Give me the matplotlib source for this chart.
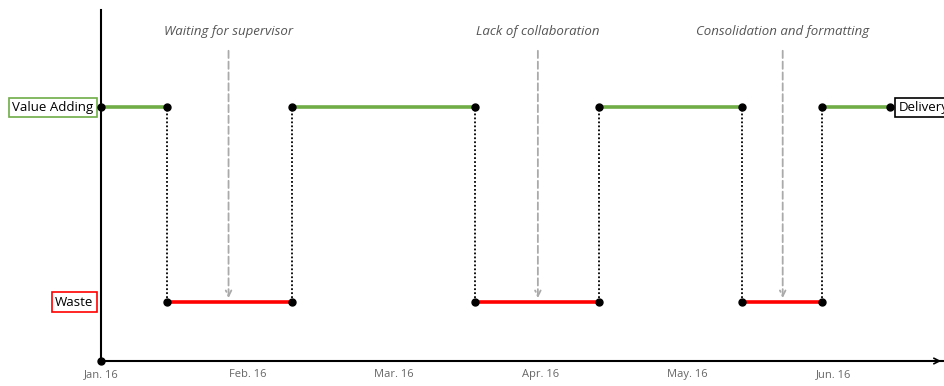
import matplotlib
matplotlib.use("Agg")
import matplotlib.pyplot as plt

plt.rcParams['font.family'] = ['Open Sans', 'DejaVu Sans']

# Timeline in months since Jan. 16
month_labels = ["Jan. 16", "Feb. 16", "Mar. 16", "Apr. 16", "May. 16", "Jun. 16"]
value_segments = [(0.0, 0.45), (1.30, 2.55), (3.40, 4.37), (4.92, 5.38)]
waste_segments = [(0.45, 1.30), (2.55, 3.40), (4.37, 4.92)]
waste_reasons = ["Waiting for supervisor", "Lack of collaboration", "Consolidation and formatting"]
reason_times = [0.87, 2.98, 4.65]

VALUE_Y, WASTE_Y = 4.3, 1.0
GREEN, RED = "#70AD47", "#FF0000"

fig = plt.figure(figsize=(9.44, 3.86), dpi=100)
ax = fig.add_axes([101 / 944, (386 - 361) / 386, 1 - 101 / 944, (361 - 10) / 386])
ax.set_xlim(0, (944 - 101) / 146.6)
ax.set_ylim(0, (361 - 10) / 59 * 1.0)

for s in ["top", "right"]:
    ax.spines[s].set_visible(False)
ax.spines["left"].set_linewidth(1.5)
ax.spines["bottom"].set_linewidth(1.5)
ax.set_yticks([])
ax.set_xticks(range(len(month_labels)))
ax.set_xticklabels(month_labels, color="#666666", fontsize=8)
ax.tick_params(axis="x", length=0, pad=6)

# arrow head at the end of the time axis
ax.annotate("", xy=(1.0, 0), xycoords="axes fraction", xytext=(0.985, 0),
            arrowprops=dict(arrowstyle="->", color="black", lw=1.2), annotation_clip=False)
ax.plot([0], [0], "o", color="black", ms=5, clip_on=False, zorder=5)

for a, b in value_segments:
    ax.plot([a, b], [VALUE_Y, VALUE_Y], color=GREEN, lw=2.6, zorder=3)
for a, b in waste_segments:
    ax.plot([a, b], [WASTE_Y, WASTE_Y], color=RED, lw=2.6, zorder=3)
    for t in (a, b):
        ax.plot([t, t], [WASTE_Y, VALUE_Y], color="black", lw=1.3, ls=(0, (1, 1.2)), zorder=2)

pts = sorted({t for seg in value_segments for t in seg})
ax.plot(pts, [VALUE_Y] * len(pts), "o", color="black", ms=5, ls="none", zorder=4, clip_on=False)
wpts = sorted({t for seg in waste_segments for t in seg})
ax.plot(wpts, [WASTE_Y] * len(wpts), "o", color="black", ms=5, ls="none", zorder=4)

# reasons for waste
top_y = (361 - 48) / 59
label_y = (361 - 32) / 59
for t, txt in zip(reason_times, waste_reasons):
    ax.annotate("", xy=(t, WASTE_Y + 0.02), xytext=(t, top_y),
                arrowprops=dict(arrowstyle="->", color="#AAAAAA", lw=1.3, ls=(0, (4, 2))))
    ax.text(t, label_y, txt, ha="center", va="center", style="italic",
            color="#555555", fontsize=9.5)

# level labels
ax.text(-0.05, VALUE_Y, "Value Adding", ha="right", va="center", fontsize=9.5,
        bbox=dict(boxstyle="square,pad=0.25", fc="white", ec=GREEN, lw=1.2), clip_on=False)
ax.text(-0.05, WASTE_Y, "Waste", ha="right", va="center", fontsize=9.5,
        bbox=dict(boxstyle="square,pad=0.25", fc="white", ec=RED, lw=1.2), clip_on=False)
ax.text(pts[-1] + 0.06, VALUE_Y, "Delivery", ha="left", va="center", fontsize=9.5,
        bbox=dict(boxstyle="square,pad=0.25", fc="white", ec="black", lw=1.2), clip_on=False)

fig.savefig("out.png", dpi=100)
